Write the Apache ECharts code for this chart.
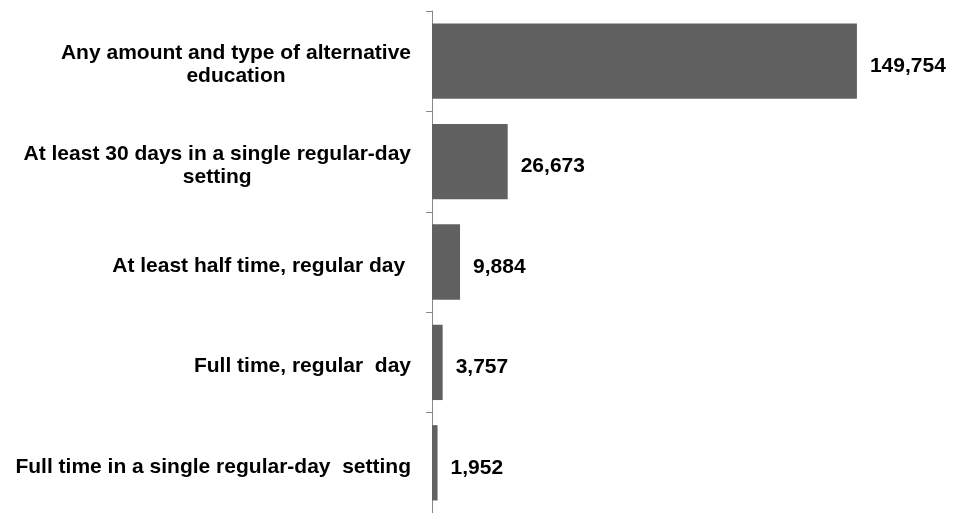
<!DOCTYPE html>
<html>
<head>
<meta charset="utf-8">
<title>Alternative education participation</title>
<script src="https://cdn.jsdelivr.net/npm/echarts@6/dist/echarts.min.js"></script>
<style>
  html, body { margin: 0; padding: 0; background: #fff; }
  #chart { width: 954px; height: 513px; }
</style>
</head>
<body>
<div id="chart"></div>
<script>
// Category labels (top to bottom), with their line breaks
const categories = [
  'Any amount and type of alternative\neducation',
  'At least 30 days in a single regular-day\nsetting',
  'At least half time, regular day ',
  'Full time, regular  day',
  'Full time in a single regular-day  setting'
];

// Number of students in each category
const students = [149754, 26673, 9884, 3757, 1952];

const FONT = '"Liberation Sans", Arial, Helvetica, sans-serif';

const chart = echarts.init(document.getElementById('chart'));

chart.setOption({
  animation: false,
  textStyle: { fontFamily: FONT },
  grid: { left: 432, right: 68, top: 11, height: 502, containLabel: false },
  xAxis: {
    type: 'value',
    min: 0,
    max: 160000,
    show: false
  },
  yAxis: {
    type: 'category',
    inverse: true,
    data: categories,
    axisLine: { show: true, lineStyle: { color: '#888888', width: 1 } },
    axisTick: { show: true, length: 6, lineStyle: { color: '#888888', width: 1 } },
    splitLine: { show: false },
    axisLabel: {
      margin: 21,
      align: 'right',
      padding: [8, 0, 0, 0],
      formatter: function (value) {
        return value.split('\n').map(function (line) {
          return '{c|' + line + '}';
        }).join('\n');
      },
      rich: {
        c: {
          align: 'center',
          fontFamily: FONT,
          fontSize: 21,
          fontWeight: 'bold',
          lineHeight: 23,
          color: '#000000'
        }
      }
    }
  },
  series: [{
    type: 'bar',
    data: students,
    barCategoryGap: '25%',
    itemStyle: { color: '#616161' },
    label: {
      show: true,
      position: 'right',
      distance: 13,
      offset: [0, 5],
      fontFamily: FONT,
      fontSize: 21,
      fontWeight: 'bold',
      color: '#000000',
      formatter: function (p) {
        return p.value.toLocaleString('en-US');
      }
    }
  }]
});
</script>
</body>
</html>
